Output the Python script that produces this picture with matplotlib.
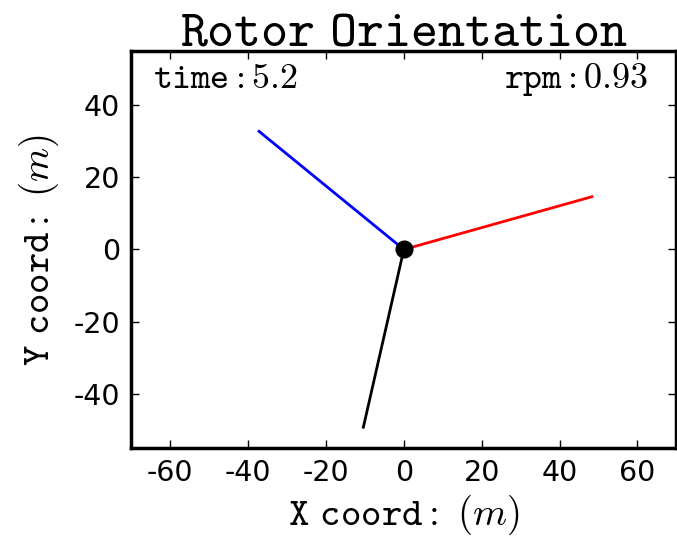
import matplotlib
matplotlib.use("Agg")
import matplotlib.pyplot as plt

# Blade tip positions (m)
blade_x = [48.3, -37.2, -10.4]
blade_y = [14.6, 32.7, -49.2]
blade_colors = ["red", "blue", "black"]

hub_x = [0.0]
hub_y = [0.0]

time_value = "5.2"
rpm_value = "0.93"

x_ticks = [-60, -40, -20, 0, 20, 40, 60]
y_ticks = [-40, -20, 0, 20, 40]

plt.rcParams["mathtext.fontset"] = "cm"

fig = plt.figure(figsize=(6.77, 5.4), dpi=100)
ax = fig.add_axes([0.194, 0.170, 0.805, 0.736])

for bx, by, c in zip(blade_x, blade_y, blade_colors):
    ax.plot([hub_x[0], bx], [hub_y[0], by], color=c, linewidth=2)
ax.plot(hub_x, hub_y, "o", color="black", markersize=12)

ax.set_xlim(-70, 70)
ax.set_ylim(-55, 55)
ax.set_xticks(x_ticks)
ax.set_yticks(y_ticks)
ax.set_xticklabels([str(t) for t in x_ticks])
ax.set_yticklabels([str(t) for t in y_ticks])
ax.tick_params(direction="in", length=6, width=1, top=True, right=True,
               labelsize=20.5, pad=8)
for sp in ax.spines.values():
    sp.set_linewidth(2.5)

ax.set_title(r"$\mathtt{Rotor\ Orientation}$", fontsize=37, pad=4)
ax.set_xlabel(r"$\mathtt{X\ coord:}\ (m)$", fontsize=28, labelpad=4)
ax.set_ylabel(r"$\mathtt{Y\ coord:}\ (m)$", fontsize=28, labelpad=9)

ax.text(0.04, 0.975, r"$\mathtt{time:}" + time_value + "$", transform=ax.transAxes,
        fontsize=26, ha="left", va="top")
ax.text(0.948, 0.975, r"$\mathtt{rpm:}" + rpm_value + "$", transform=ax.transAxes,
        fontsize=26, ha="right", va="top")

fig.savefig("out.png", dpi=100)
